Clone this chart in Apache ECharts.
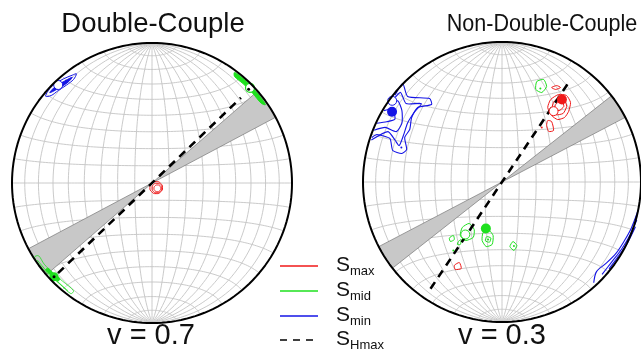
<!DOCTYPE html>
<html><head><meta charset="utf-8">
<script src="https://cdn.jsdelivr.net/npm/echarts@6/dist/echarts.min.js"></script>
<style>html,body{margin:0;padding:0;background:#fff}#c{width:641px;height:353px}</style>
</head><body><div id="c"></div>
<script>
// ---------------- data (net units: east, north; primitive radius = 100) ----------------
const panelTitles = ['Double-Couple', 'Non-Double-Couple'];
const panelLabels = ['v = 0.7', 'v = 0.3'];
const shmaxAzimuth = [46.2, 34];               // degrees clockwise from north
const shmaxReach = [[-93, 88], [-92, 87]];     // extent along azimuth
const fanAzimuth = [[49, 62], [52, 62.5]];     // grey fan azimuth range
const legendNames = [['S', 'max'], ['S', 'mid'], ['S', 'min'], ['S', 'Hmax']];

// Double-couple panel
const dcSmin = [
  [[-76,62],[-73,67.5],[-69,71],[-63,74.5],[-57,77],[-54,78],[-56,74],[-61,70],[-67,66],[-72,62.5]],
  [[-73,64.5],[-69,69],[-63,72.5],[-57,75.5],[-60,72],[-66,68]]
];
const dcSmidFilled = [
  [[59,79],[66,74],[72,68],[77,62],[81,56],[78,57],[72,64],[65,71],[59,76]],
  [[-76,-62],[-72,-66],[-67,-70],[-66,-68],[-70,-65],[-74,-61]]
];
const dcSmid = [
  [[-84,-53],[-79,-60],[-73,-66],[-66,-72],[-58,-79],[-56,-77],[-64,-70],[-71,-64],[-77,-58],[-81,-52]],
  [[-82,-55],[-76,-62],[-69,-69],[-60,-77]]
];
const dcSmax = [
  [[7.5,-3.3],[6.2,-0.3],[3,1],[-0.2,-0.3],[-1.5,-3.3],[-0.2,-6.3],[3,-7.6],[6.2,-6.3]],
  [[7,-3.6],[5.9,-1.1],[3.5,-0.2],[1.1,-1.1],[0.1,-3.6],[1.1,-6.1],[3.5,-7],[5.9,-6.1]],
  [[6.3,-3.8],[5.5,-2.1],[3.8,-1.4],[2.1,-2.1],[1.4,-3.8],[2.1,-5.5],[3.8,-6.2],[5.5,-5.5]]
];
const dcMeans = { min: [[-67,70]], mid: [[70,68]] };
const dcBest = { mid: [[-70,-67]] };
const dcTicks = [[69,67],[-70,-67]];

// Non-double-couple panel
const ndcSminOpen = [
  [[-77,62],[-71.4,70.4],[-67.9,61.1],[-52.1,59.6],[-50.7,55.4],[-60.7,53.2],[-65,46.1],[-66.4,37.5],[-70,31.8],[-68.6,23.2],[-72.1,20.4],[-78.6,22.5],[-80.7,31.1],[-90,33.9],[-93.6,31.8]],
  [[-78,59],[-73,64],[-69,56],[-58,56],[-63,50],[-68,42],[-71,33],[-74,26],[-77,30],[-82,36],[-94,30]],
  [[-81,56],[-75,58],[-72,51],[-72,42],[-76,36],[-84,39],[-92,37]],
  [[-85,51],[-79,52],[-77,45],[-83,43],[-90,42]]
];
const ndcSminAnti = [
  [[98,-20],[93,-33],[88,-42],[82,-51],[75,-58],[68,-64],[66,-72]],
  [[97,-27],[92,-38],[86,-48],[79,-57],[72,-66]],
  [[96,-32],[90,-44],[83,-54],[77,-62]]
];
const ndcSmax = [
  [[35,58.9],[40.7,62.5],[46.4,61.8],[49.3,56.8],[47.9,50.4],[45,46.1],[40,44.6],[35.7,47.5],[32.9,53.2]],
  [[37,57],[41,60],[45,58.5],[46.5,54],[44,49],[39,48],[36,51]],
  [[39,56],[43,58],[44.5,54],[41,51],[38,53]],
  [[35.7,67.5],[39.3,68.9],[42.1,67.5],[38.6,66.1]],
  [[32.9,43.9],[35.7,43.2],[37.1,36.8],[33.6,36.1],[32.1,40.4]],
  [[-34.3,-59.6],[-30.7,-57.5],[-29.3,-61.8],[-33.6,-62.5]]
];
const ndcSmid = [
  [[25,71.8],[30,73.2],[32.1,68.2],[28.6,63.9],[24.3,66.1]],
  [[-28.6,-32.5],[-23.6,-29.6],[-20,-33.9],[-20.7,-39.6],[-26.4,-41.8],[-30,-38.2]],
  [[-13.6,-36.1],[-9.3,-34.6],[-6.4,-38.2],[-7.1,-44.6],[-11.4,-46.1],[-14.3,-41.8]],
  [[-11,-39],[-8,-40],[-9,-43],[-12,-42]],
  [[5.7,-46.1],[7.9,-42.5],[10.7,-45.4],[8.6,-48.9]],
  [[-37.9,-40],[-35,-38.2],[-34.3,-41.1],[-37.1,-42.5]],
  [[-31.4,-42.5],[-29.3,-41.1],[-30,-44.6],[-32.1,-44.6]]
];
const ndcMeans = { min: [[-79,58]], mid: [[-26.4,-37.5]], max: [[37.1,50.6]] };
const ndcBest = { min: [[-79.1,50.2]], mid: [[-11.6,-33.2]], max: [[43.1,58.9]] };
const ndcSpecks = { min: [[-72.4,24.6]], mid: [[27.6,66.8],[-10,-41],[8.6,-45.7],[-35,-48.9]], max: [[28.6,38.9]] };

// ---------------- styles ----------------
const RED = '#f01818', GREEN = '#1ee01e', BLUE = '#1414e6';
const FONT = '"Liberation Sans", Arial, Helvetica, sans-serif';
const grids = [
  { left: 12, top: 43, width: 280, height: 280 },
  { left: 363, top: 42, width: 280, height: 280 }
];

// ---------------- net geometry (equal-area lower hemisphere) ----------------
function proj(e, n, d) {
  const r = Math.sqrt(Math.max(0, 1 - d));
  const h = Math.hypot(e, n);
  if (h < 1e-12) return [0, 0];
  return [100 * r * e / h, 100 * r * n / h];
}
const D = Math.PI / 180;
function graticule() {
  const lines = [];
  for (let a = 10; a < 180; a += 10) {
    const pts = [];
    for (let t = 0; t <= 180; t += 2) {
      const e = Math.sin(t * D) * Math.cos(a * D), n = Math.cos(t * D), d = Math.sin(t * D) * Math.sin(a * D);
      pts.push(proj(e, n, d));
    }
    lines.push(pts);
  }
  for (let lat = -80; lat <= 80; lat += 10) {
    const pts = [];
    for (let f = 0; f <= 180; f += 2) {
      const e = Math.cos(lat * D) * Math.cos(f * D), n = Math.sin(lat * D), d = Math.cos(lat * D) * Math.sin(f * D);
      pts.push(proj(e, n, d));
    }
    lines.push(pts);
  }
  return lines;
}
function primitive() {
  const pts = [];
  for (let a = 0; a <= 360; a += 2) pts.push([100 * Math.sin(a * D), 100 * Math.cos(a * D)]);
  return pts;
}
function fan(az1, az2) {
  const out = [];
  [0, 180].forEach(off => {
    const pts = [[0, 0]];
    for (let a = az1; a <= az2 + 1e-9; a += 0.5) pts.push([100 * Math.sin((a + off) * D), 100 * Math.cos((a + off) * D)]);
    out.push(pts);
  });
  return out;
}

function shapeSeries(gi, shapes, z) {
  return {
    type: 'custom', xAxisIndex: gi, yAxisIndex: gi, z: z, silent: true, clip: false,
    data: shapes.map(() => [0, 0]),
    renderItem: (params, api) => {
      const s = shapes[params.dataIndex];
      const pts = s.pts.map(p => api.coord(p));
      return {
        type: s.closed ? 'polygon' : 'polyline',
        shape: { points: pts, smooth: s.smooth || 0 },
        style: { fill: s.fill || null, stroke: s.stroke || null, lineWidth: s.lw || 1, lineJoin: 'round' }
      };
    }
  };
}
function dots(gi, pts, opts, z) {
  return {
    type: 'scatter', xAxisIndex: gi, yAxisIndex: gi, z: z, silent: true,
    symbol: 'circle', symbolSize: opts.size, data: pts,
    itemStyle: { color: opts.fill, borderColor: opts.stroke || opts.fill, borderWidth: opts.bw || 0, opacity: 1 }
  };
}

const series = [];
const grat = graticule();
[0, 1].forEach(gi => {
  series.push(shapeSeries(gi, grat.map(p => ({ pts: p, stroke: '#c4c4c4', lw: 0.9 })), 1));
  series.push(shapeSeries(gi, fan(fanAzimuth[gi][0], fanAzimuth[gi][1]).map(p => ({ pts: p, closed: true, fill: '#c8c8c8', stroke: '#777', lw: 0.7 })), 2));
  const az = shmaxAzimuth[gi] * D, r = shmaxReach[gi];
  series.push({
    type: 'lines', coordinateSystem: 'cartesian2d', xAxisIndex: gi, yAxisIndex: gi, z: 5, silent: true,
    lineStyle: { color: '#000', width: 2.6, type: [8, 6], opacity: 1 },
    data: [{ coords: [[r[0] * Math.sin(az), r[0] * Math.cos(az)], [r[1] * Math.sin(az), r[1] * Math.cos(az)]] }]
  });
});

series.push(shapeSeries(0, [
  { pts: dcSmin[0], closed: true, stroke: BLUE, lw: 1, smooth: 0.3 },
  { pts: dcSmin[1], closed: true, stroke: BLUE, fill: BLUE, lw: 1, smooth: 0.3 },
  { pts: dcSmidFilled[0], closed: true, stroke: GREEN, fill: GREEN, lw: 1, smooth: 0.3 },
  { pts: dcSmidFilled[1], closed: true, stroke: GREEN, fill: GREEN, lw: 1, smooth: 0.3 },
  { pts: dcSmid[0], closed: true, stroke: GREEN, lw: 0.8, smooth: 0.3 },
  { pts: dcSmid[1], stroke: GREEN, lw: 0.8, smooth: 0.3 },
  { pts: dcSmax[0], closed: true, stroke: RED, lw: 1, smooth: 0.6 },
  { pts: dcSmax[1], closed: true, stroke: RED, lw: 1, smooth: 0.6 },
  { pts: dcSmax[2], closed: true, stroke: RED, lw: 1, smooth: 0.6 }
], 4));
series.push(dots(0, dcBest.mid, { size: 9, fill: GREEN }, 6));
series.push(dots(0, dcMeans.min, { size: 9, fill: '#fff', stroke: BLUE, bw: 1 }, 7));
series.push(dots(0, dcMeans.mid, { size: 9, fill: '#fff', stroke: GREEN, bw: 1.2 }, 7));
series.push(dots(0, dcTicks, { size: 3, fill: '#000' }, 8));

series.push(shapeSeries(1, [].concat(
  ndcSminOpen.map(p => ({ pts: p, stroke: BLUE, lw: 1.1, smooth: 0.2 })),
  ndcSminAnti.map(p => ({ pts: p, stroke: BLUE, lw: 1.1, smooth: 0.3 })),
  ndcSmax.map(p => ({ pts: p, closed: true, stroke: RED, lw: 1, smooth: 0.2 })),
  ndcSmid.map(p => ({ pts: p, closed: true, stroke: GREEN, lw: 1, smooth: 0.2 }))
), 4));
series.push(dots(1, ndcBest.min, { size: 10, fill: BLUE }, 6));
series.push(dots(1, ndcBest.mid, { size: 10, fill: GREEN }, 6));
series.push(dots(1, ndcBest.max, { size: 10, fill: RED }, 6));
series.push(dots(1, ndcMeans.min, { size: 9, fill: '#fff', stroke: BLUE, bw: 1 }, 7));
series.push(dots(1, ndcMeans.mid, { size: 9, fill: '#fff', stroke: GREEN, bw: 1 }, 7));
series.push(dots(1, ndcMeans.max, { size: 9, fill: '#fff', stroke: RED, bw: 1 }, 7));
series.push(dots(1, ndcSpecks.min, { size: 2, fill: BLUE }, 7));
series.push(dots(1, ndcSpecks.mid, { size: 2, fill: GREEN }, 7));
series.push(dots(1, ndcSpecks.max, { size: 2, fill: RED }, 7));

[0, 1].forEach(gi => series.push(shapeSeries(gi, [{ pts: primitive(), closed: true, stroke: '#000', lw: 2 }], 9)));

const axisBase = { type: 'value', min: -100, max: 100, show: false };
const legendColors = [RED, GREEN, BLUE, '#000'];
const legendY = [266, 291, 316, 340];
const graphic = [];
panelTitles.forEach((t, i) => graphic.push({
  type: 'text', x: [153, 542][i], y: 24, scaleX: [1, 0.88][i],
  style: { text: t, fontFamily: FONT, fontSize: [27.5, 24.5][i], fill: '#111', align: 'center', verticalAlign: 'middle' }
}));
panelLabels.forEach((t, i) => graphic.push({
  type: 'text', x: [151, 502][i], y: 336,
  style: { text: t, fontFamily: FONT, fontSize: 29, fill: '#111', align: 'center', verticalAlign: 'middle' }
}));
legendNames.forEach((nm, i) => {
  graphic.push({ type: 'line', shape: { x1: 280, y1: legendY[i], x2: 318, y2: legendY[i] },
    style: { stroke: legendColors[i], lineWidth: i === 3 ? 1.6 : 1.4, lineDash: i === 3 ? [7, 6] : null } });
  graphic.push({ type: 'text', x: 336, y: legendY[i] - 1,
    style: { text: nm[0], fontFamily: FONT, fontSize: 21, fill: '#111', align: 'left', verticalAlign: 'middle' } });
  graphic.push({ type: 'text', x: 350, y: legendY[i] + 5,
    style: { text: nm[1], fontFamily: FONT, fontSize: 13, fill: '#111', align: 'left', verticalAlign: 'middle' } });
});

const chart = echarts.init(document.getElementById('c'), null, { renderer: 'canvas' });
chart.setOption({
  animation: false,
  backgroundColor: '#fff',
  grid: grids,
  xAxis: [Object.assign({ gridIndex: 0 }, axisBase), Object.assign({ gridIndex: 1 }, axisBase)],
  yAxis: [Object.assign({ gridIndex: 0 }, axisBase), Object.assign({ gridIndex: 1 }, axisBase)],
  series: series,
  graphic: graphic
});
</script></body></html>
